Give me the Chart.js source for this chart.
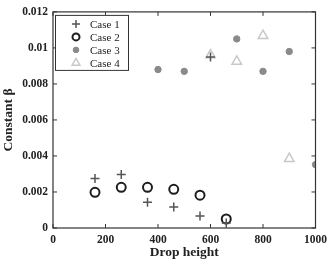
<!DOCTYPE html>
<html>
<head>
<meta charset="utf-8">
<script src="https://cdn.jsdelivr.net/npm/chart.js@4"></script>
<style>
  html, body { margin: 0; padding: 0; background: #fff; }
  #wrap { width: 332px; height: 261px; }
</style>
</head>
<body>
<div id="wrap"><canvas id="chart1" width="332" height="261"></canvas></div>
<script>
// values
const case1X = [160, 260, 360, 460, 560, 600, 660];
const case1Y = [0.00275, 0.00297, 0.00143, 0.00116, 0.00066, 0.0095, 0.00028];
const case2X = [160, 260, 360, 460, 560, 660];
const case2Y = [0.00198, 0.00226, 0.00226, 0.00215, 0.00182, 0.0005];
const case3X = [400, 500, 700, 800, 900, 1000];
const case3Y = [0.0088, 0.0087, 0.0105, 0.0087, 0.0098, 0.00352];
const case4X = [600, 700, 800, 900];
const case4Y = [0.0096, 0.00925, 0.01068, 0.00385];
const xTicks = [0, 200, 400, 600, 800, 1000];
const yTicks = [0, 0.002, 0.004, 0.006, 0.008, 0.01, 0.012];

const toPoints = (xs, ys) => xs.map((x, i) => ({ x: x, y: ys[i] }));
const serif = '"Liberation Serif", "Times New Roman", serif';

// box, inward ticks and legend like the matlab figure
const boxPlugin = {
    id: 'boxPlugin',
    afterDraw(chart) {
        const ctx = chart.ctx;
        const a = chart.chartArea;
        const xs = chart.scales.x, ys = chart.scales.y;
        ctx.save();
        ctx.strokeStyle = '#333';
        ctx.lineWidth = 1.2;
        ctx.strokeRect(a.left, a.top, a.right - a.left, a.bottom - a.top);
        ctx.lineWidth = 1;
        xTicks.forEach(t => {
            const p = xs.getPixelForValue(t);
            ctx.beginPath();
            ctx.moveTo(p, a.bottom); ctx.lineTo(p, a.bottom - 4);
            ctx.moveTo(p, a.top); ctx.lineTo(p, a.top + 4);
            ctx.stroke();
        });
        yTicks.forEach(t => {
            const p = ys.getPixelForValue(t);
            ctx.beginPath();
            ctx.moveTo(a.left, p); ctx.lineTo(a.left + 4, p);
            ctx.moveTo(a.right, p); ctx.lineTo(a.right - 4, p);
            ctx.stroke();
        });

        // legend
        const lx = a.left + 2, ly = a.top + 3, lw = 73, lh = 55;
        ctx.fillStyle = '#fff';
        ctx.fillRect(lx, ly, lw, lh);
        ctx.strokeStyle = '#333';
        ctx.lineWidth = 1;
        ctx.strokeRect(lx + 0.5, ly + 0.5, lw, lh);
        chart.data.datasets.forEach((ds, i) => {
            const cy = ly + 9 + i * 13;
            ctx.save();
            ctx.fillStyle = ds.backgroundColor;
            ctx.strokeStyle = ds.borderColor;
            ctx.lineWidth = ds.borderWidth;
            Chart.helpers.drawPoint(ctx, {
                pointStyle: ds.pointStyle,
                radius: ds.legendRadius,
                borderWidth: ds.borderWidth
            }, lx + 21, cy);
            ctx.restore();
            ctx.fillStyle = '#222';
            ctx.font = '11px ' + serif;
            ctx.textBaseline = 'middle';
            ctx.fillText(ds.label, lx + 35, cy + 1);
        });
        ctx.restore();
    }
};

const ctx = document.getElementById('chart1').getContext('2d');
const chart1 = new Chart(ctx, {
    type: 'scatter',
    data: {
        datasets: [
            {
                label: 'Case 1',
                data: toPoints(case1X, case1Y),
                pointStyle: 'cross',
                pointRadius: 4.5,
                legendRadius: 4,
                borderColor: '#555',
                backgroundColor: '#555',
                borderWidth: 1.5
            },
            {
                label: 'Case 2',
                data: toPoints(case2X, case2Y),
                pointStyle: 'circle',
                pointRadius: 4.5,
                legendRadius: 3.5,
                borderColor: '#1e1e1e',
                backgroundColor: 'rgba(0,0,0,0)',
                borderWidth: 2
            },
            {
                label: 'Case 3',
                data: toPoints(case3X, case3Y),
                pointStyle: 'circle',
                pointRadius: 3.2,
                legendRadius: 2.8,
                borderColor: '#8a8a8a',
                backgroundColor: '#8a8a8a',
                borderWidth: 1
            },
            {
                label: 'Case 4',
                data: toPoints(case4X, case4Y),
                pointStyle: 'triangle',
                pointRadius: 5.5,
                legendRadius: 4.5,
                borderColor: '#c8c8c8',
                backgroundColor: 'rgba(0,0,0,0)',
                borderWidth: 1.5
            }
        ]
    },
    options: {
        responsive: false,
        animation: false,
        layout: { padding: { top: 10, right: 15, left: 0, bottom: 0 } },
        scales: {
            x: {
                type: 'linear',
                min: 0,
                max: 1000,
                afterBuildTicks: s => { s.ticks = xTicks.map(v => ({ value: v })); },
                afterFit: s => { s.height = 33; },
                grid: { display: false, drawTicks: false },
                border: { display: false },
                ticks: {
                    padding: 5,
                    color: '#222',
                    maxRotation: 0,
                    font: { family: serif, size: 11.5, weight: 'bold' },
                    callback: v => String(v)
                },
                title: {
                    display: true,
                    text: 'Drop height',
                    color: '#222',
                    padding: { top: 0, bottom: 0 },
                    font: { family: serif, size: 13.5, weight: 'bold' }
                }
            },
            y: {
                type: 'linear',
                min: 0,
                max: 0.012,
                afterBuildTicks: s => { s.ticks = yTicks.map(v => ({ value: v })); },
                afterFit: s => { s.width = 53; },
                grid: { display: false, drawTicks: false },
                border: { display: false },
                ticks: {
                    padding: 5,
                    color: '#222',
                    font: { family: serif, size: 11.5, weight: 'bold' },
                    callback: v => String(+v.toFixed(3))
                },
                title: {
                    display: true,
                    text: 'Constant β',
                    color: '#222',
                    padding: { top: 0, bottom: 2 },
                    font: { family: serif, size: 13.5, weight: 'bold' }
                }
            }
        },
        plugins: {
            legend: { display: false },
            tooltip: { enabled: false }
        }
    },
    plugins: [boxPlugin]
});
</script>
</body>
</html>
